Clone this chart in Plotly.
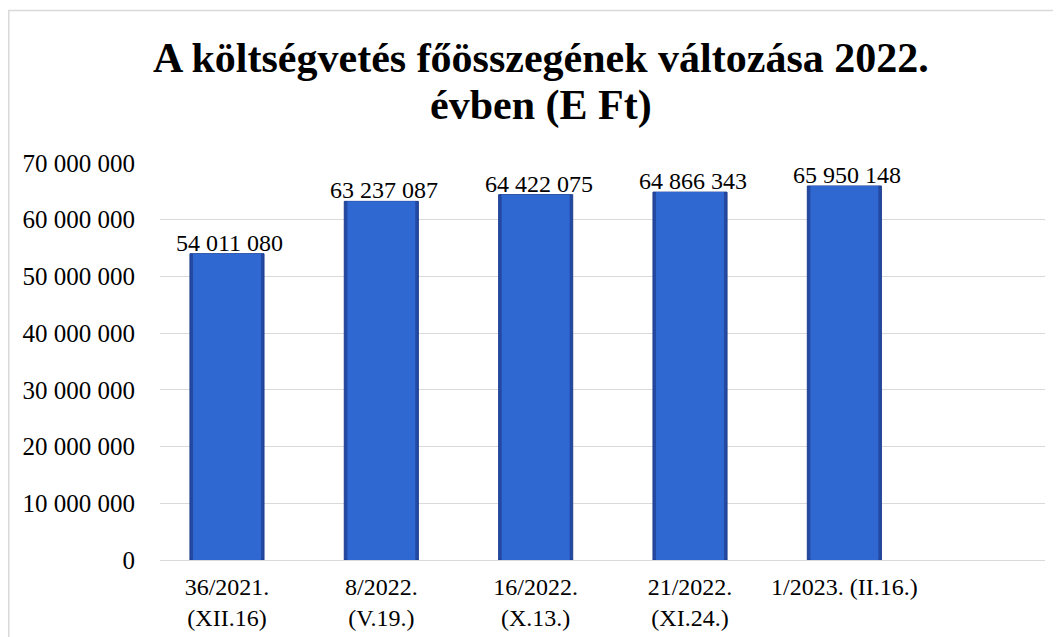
import plotly.graph_objects as go

categories = ["36/2021.<br>(XII.16)", "8/2022.<br>(V.19.)", "16/2022.<br>(X.13.)",
              "21/2022.<br>(XI.24.)", "1/2023. (II.16.)"]
values = [54011080, 63237087, 64422075, 64866343, 65950148]
tick_vals = [0, 10000000, 20000000, 30000000, 40000000, 50000000, 60000000, 70000000]
tick_text = ["0", "10 000 000", "20 000 000", "30 000 000", "40 000 000",
             "50 000 000", "60 000 000", "70 000 000"]
title_lines = ["A költségvetés főösszegének változása 2022.", "évben (E Ft)"]

labels = [f"{v:,}".replace(",", " ") for v in values]

FONT = "Liberation Serif"

fig = go.Figure()
# outer (darker edge) layer
fig.add_trace(go.Bar(
    x=categories, y=values, width=0.48,
    marker=dict(color="#2349a3", line=dict(color="#1c3f8f", width=1)),
    hoverinfo="skip",
))
# inner lighter face
fig.add_trace(go.Bar(
    x=categories, y=values, width=0.44,
    marker=dict(color="#3068d2", line=dict(width=0)),
    hoverinfo="skip",
))

annotations = [
    dict(text=f"<b>{title_lines[0]}</b>", xref="paper", yref="paper", x=0.4305, y=1.2645,
         xanchor="center", yanchor="middle", showarrow=False,
         font=dict(family=FONT, size=42, color="#000000")),
    dict(text=f"<b>{title_lines[1]}</b>", xref="paper", yref="paper", x=0.4305, y=1.146,
         xanchor="center", yanchor="middle", showarrow=False,
         font=dict(family=FONT, size=42, color="#000000")),
]
for c, v, t in zip(categories, values, labels):
    annotations.append(dict(text=t, x=c, y=v, xref="x", yref="y", xanchor="center",
                            yanchor="middle", yshift=11, xshift=3, showarrow=False,
                            font=dict(family=FONT, size=24, color="#000000")))

fig.update_layout(
    width=1053, height=629,
    barmode="overlay",
    paper_bgcolor="white", plot_bgcolor="white",
    margin=dict(l=152, r=16, t=155, b=77, autoexpand=False),
    showlegend=False,
    annotations=annotations,
    xaxis=dict(range=[-0.434, 5.3], showgrid=False, showline=True, linecolor="#d9d9d9",
               linewidth=1, ticks="", ticklabelstandoff=5, automargin=False,
               tickfont=dict(family=FONT, size=24, color="#000000")),
    yaxis=dict(range=[0, 70000000], tickvals=tick_vals, ticktext=tick_text,
               showgrid=True, gridcolor="#d9d9d9", gridwidth=1, zeroline=False,
               showline=False, ticks="", ticklabelstandoff=24, automargin=False,
               tickfont=dict(family=FONT, size=25, color="#000000")),
    shapes=[dict(type="rect", xref="paper", yref="paper",
                 x0=-152/885 + 0.8/885, x1=1.2, y0=-0.3, y1=(552 - 2.5) / 397,
                 line=dict(color="#d9d9d9", width=1.5), fillcolor="rgba(0,0,0,0)")],
)

fig.write_html("out.html")
